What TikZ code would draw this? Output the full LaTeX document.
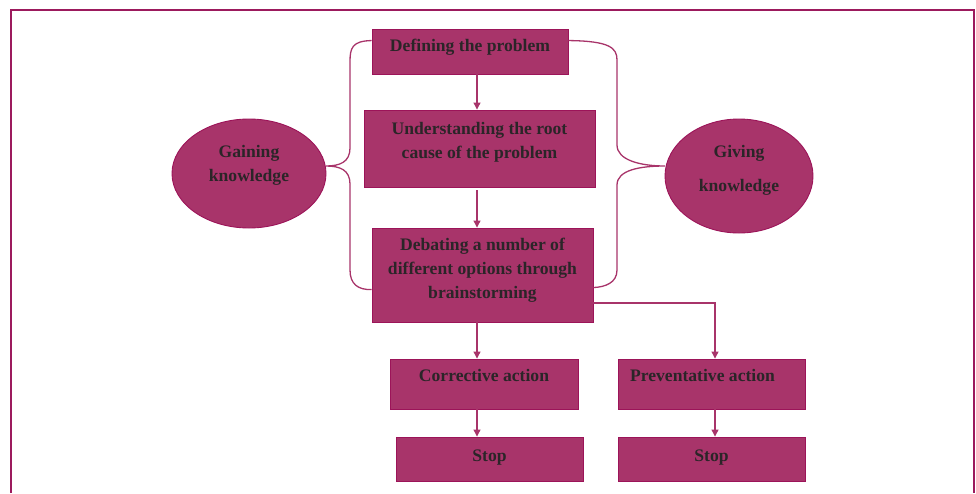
\documentclass[tikz,border=0pt]{standalone}
\usepackage{fontspec}
\setmainfont{Liberation Serif}
\usetikzlibrary{positioning, arrows.meta, shapes.geometric}
\definecolor{plum}{HTML}{A8346A}
\definecolor{plumdark}{HTML}{9C1459}
\definecolor{plumframe}{HTML}{9C1A5D}
\definecolor{ink}{HTML}{2B2528}

\begin{document}
\begin{tikzpicture}[x=1pt, y=-1pt,
    box/.style = {draw=plumdark,
                  fill=plum,
                  line width=0.9pt,
                  align=center,
                  inner sep=0pt,
                  text=ink,
                  font=\bfseries\fontsize{17.6}{24}\selectfont},
    blob/.style = {box, ellipse},
    flow/.style = {draw=plum, line width=1.1pt, -{Triangle[width=7pt,length=7pt]}},
    brace/.style = {draw=plum, line width=1.3pt}]

    \useasboundingbox (0,0) rectangle (976,493);
    \draw[plumframe, line width=2.4pt] (11,493) -- (11,10) -- (974,10) -- (974,493);

    % steps
    \node (def) at (470,51.5) [box, minimum width=196, minimum height=45, text depth=12pt] {Defining the problem};
    \node (root) at (479.5,148.5) [box, minimum width=231, minimum height=77, text depth=17pt] {Understanding the root\\cause of the problem};
    \node (debate) at (482.5,275) [box, minimum width=221, minimum height=94, text depth=13pt] {Debating a number of\\different options through\\brainstorming};
    \node (corr) at (484,384) [box, minimum width=188, minimum height=50, text depth=17pt] {Corrective action};
    \node (prev) at (711.5,384) [box, minimum width=187, minimum height=50, text depth=17pt] {Preventative action\hspace{18pt}};
    \node (stopa) at (489.5,459) [box, minimum width=187, minimum height=44, text depth=7pt] {Stop};
    \node (stopb) at (711.5,459) [box, minimum width=187, minimum height=44, text depth=7pt] {Stop};

    % knowledge
    \node (gain) at (249,173.5) [blob, minimum width=154, minimum height=109, text depth=21pt] {Gaining\\knowledge};
    \node (give) at (739,176) [blob, minimum width=148, minimum height=114, text depth=15pt] {Giving\\[10pt]knowledge};
    \coordinate (gtip) at (326,166);
    \coordinate (vtip) at (665,166);

    \draw[brace] ([yshift=-12pt]def.north west) .. controls (352,41) and (350,48) .. (350,62) -- (350,148)
        .. controls (350,162) and (340,166) .. (gtip) .. controls (340,166) and (350,170) .. (350,184) -- (350,270)
        .. controls (350,284) and (358,290) .. ([yshift=-62pt]debate.north west);
    \draw[brace] ([yshift=-12pt]def.north east) .. controls (610,41) and (617,48) .. (617,60) -- (617,145)
        .. controls (617,160) and (640,166) .. (vtip) .. controls (640,166) and (617,170) .. (617,185) -- (617,270)
        .. controls (617,283) and (605,287) .. ([yshift=-60pt]debate.north east);

    % arrows
    \draw[flow] (def.south -| 477,0) -- (root.north -| 477,0);
    \draw[flow] ([yshift=-3pt]root.south -| 477,0) -- (debate.north -| 477,0);
    \draw[flow] (debate.south -| 477,0) -- (corr.north -| 477,0);
    \draw[flow] (debate.east |- 0,303) -| (prev.north -| 715,0);
    \draw[flow] (corr.south -| 477,0) -- (stopa.north -| 477,0);
    \draw[flow] (prev.south -| 715,0) -- (stopb.north -| 715,0);
\end{tikzpicture}
\end{document}
